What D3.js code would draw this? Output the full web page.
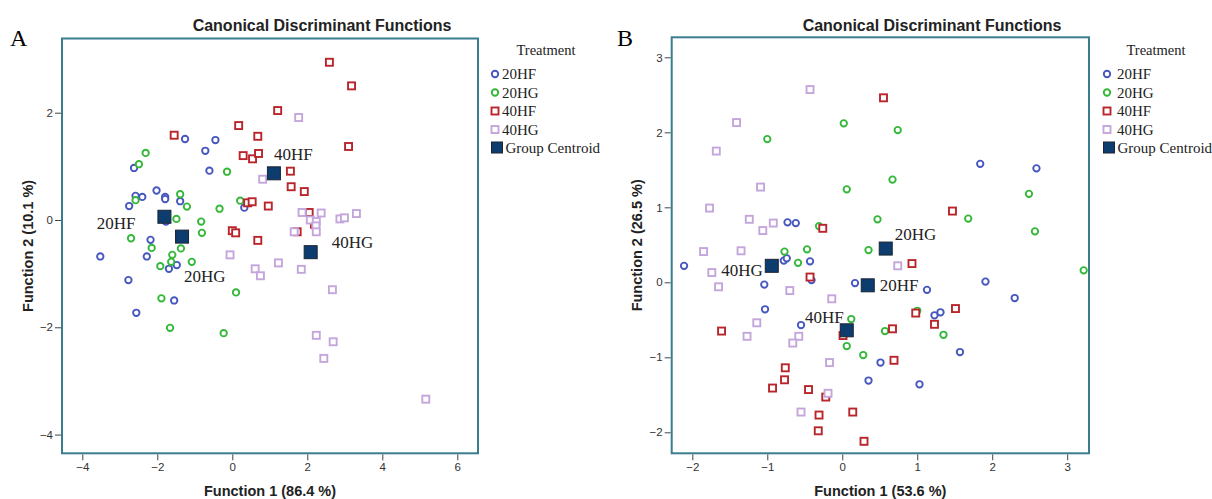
<!DOCTYPE html>
<html>
<head>
<meta charset="utf-8">
<script src="https://cdn.jsdelivr.net/npm/d3@7"></script>
<style>
  body { margin: 0; background: #fff; }
  svg { display: block; }
  .tick text { font-family: "Liberation Sans", Arial, sans-serif; font-size: 11.5px; fill: #333; }
  .tick line { stroke: #444; }
  .domain { display: none; }
</style>
</head>
<body>
<script>
// groups and colours
var groups = ['20HF', '20HG', '40HF', '40HG']
var colors = {'20HF': '#4657c0', '20HG': '#35b83a', '40HF': '#b8262c', '40HG': '#c4a6dc'}
var shapes = {'20HF': 'circle', '20HG': 'circle', '40HF': 'square', '40HG': 'square'}

// panel A scores [function1, function2]
var A_20HF = [[-1.26, 1.51], [-0.45, 1.49], [-0.72, 1.29], [-2.62, 0.97], [-0.61, 0.92], [-2.02, 0.55],
  [-2.58, 0.45], [-2.40, 0.43], [-1.79, 0.43], [-1.79, 0.39], [-1.39, 0.35], [-2.75, 0.26], [0.32, 0.23],
  [-1.77, -0.03], [-2.18, -0.37], [-3.52, -0.68], [-2.28, -0.68], [-1.48, -0.84], [-1.69, -0.91],
  [-2.77, -1.12], [-1.55, -1.50], [-2.56, -1.73]]
var A_20HG = [[-2.31, 1.25], [-2.49, 1.04], [-0.14, 0.90], [-1.39, 0.48], [-2.58, 0.37], [-1.21, 0.25],
  [-0.34, 0.21], [0.21, 0.36], [-1.49, 0.02], [-0.83, -0.03], [-0.81, -0.24], [-2.70, -0.34], [-2.15, -0.52],
  [-1.37, -0.53], [-1.60, -0.65], [-1.63, -0.78], [-1.92, -0.86], [-1.08, -0.78], [0.10, -1.35],
  [-1.89, -1.46], [-1.66, -2.01], [-0.23, -2.11]]
var A_40HF = [[2.59, 2.94], [3.18, 2.50], [1.21, 2.04], [0.17, 1.76], [-1.55, 1.58], [0.68, 1.56],
  [3.10, 1.37], [0.29, 1.20], [0.54, 1.14], [0.70, 1.24], [1.55, 0.91], [1.57, 0.62], [1.92, 0.53],
  [0.41, 0.32], [0.53, 0.34], [0.96, 0.26], [2.05, 0.14], [0.00, -0.20], [0.09, -0.24], [0.68, -0.38],
  [1.73, -0.22], [2.19, -0.08]]
var A_40HG = [[1.77, 1.91], [0.81, 0.76], [1.86, 0.14], [2.37, 0.13], [2.08, 0.00], [2.24, -0.03],
  [2.23, -0.11], [2.87, 0.02], [2.99, 0.04], [3.31, 0.12], [1.65, -0.22], [2.24, -0.22], [-0.06, -0.65],
  [0.61, -0.91], [0.75, -1.04], [1.23, -0.80], [1.84, -0.92], [2.67, -1.30], [2.24, -2.15], [2.69, -2.27],
  [2.44, -2.58], [5.16, -3.34]]
var A_centroids = [[-1.81, 0.06], [-1.34, -0.31], [1.11, 0.87], [2.09, -0.60]]

// panel B scores [function1, function2]
var B_20HF = [[1.84, 1.58], [2.59, 1.52], [-0.73, 0.80], [-0.62, 0.79], [-2.11, 0.22], [-0.78, 0.29],
  [-0.74, 0.32], [-0.43, 0.28], [-0.41, 0.03], [-1.04, -0.03], [0.17, -0.01], [1.13, -0.10], [1.91, 0.01],
  [2.30, -0.21], [-1.03, -0.36], [1.23, -0.44], [1.31, -0.40], [-0.55, -0.57], [1.57, -0.93], [0.51, -1.07],
  [0.35, -1.31], [1.03, -1.36]]
var B_20HG = [[0.02, 2.12], [0.74, 2.03], [-1.00, 1.91], [0.67, 1.37], [0.06, 1.24], [2.49, 1.18],
  [0.47, 0.84], [1.68, 0.85], [2.57, 0.68], [-0.31, 0.75], [-0.77, 0.41], [-0.47, 0.44], [0.35, 0.43],
  [-0.59, 0.26], [3.22, 0.16], [0.12, -0.49], [1.00, -0.38], [0.57, -0.65], [1.35, -0.70], [0.06, -0.85],
  [0.28, -0.97]]
var B_40HF = [[0.55, 2.46], [1.47, 0.95], [-0.26, 0.72], [0.93, 0.25], [-0.43, 0.07], [-1.61, -0.65],
  [0.01, -0.71], [0.67, -0.62], [0.98, -0.41], [1.23, -0.56], [1.51, -0.35], [0.69, -1.04], [-0.76, -1.14],
  [-0.77, -1.30], [-0.93, -1.41], [-0.45, -1.43], [-0.22, -1.53], [-0.31, -1.77], [0.14, -1.73],
  [-0.32, -1.98], [0.29, -2.12]]
var B_40HG = [[-0.43, 2.57], [-1.41, 2.13], [-1.68, 1.75], [-1.09, 1.27], [-1.77, 0.99], [-1.24, 0.84],
  [-0.92, 0.79], [-1.06, 0.69], [-1.85, 0.41], [-1.35, 0.42], [-1.74, 0.13], [-1.65, -0.06], [-0.70, -0.11],
  [-0.14, -0.22], [0.74, 0.22], [-1.14, -0.54], [-1.27, -0.72], [-0.58, -0.72], [-0.66, -0.81],
  [-0.17, -1.07], [-0.19, -1.48], [-0.55, -1.73]]
var B_centroids = [[0.34, -0.04], [0.58, 0.45], [0.06, -0.64], [-0.94, 0.22]]

var A_xTicks = [-4, -2, 0, 2, 4, 6]
var A_yTicks = [-4, -2, 0, 2]
var B_xTicks = [-2, -1, 0, 1, 2, 3]
var B_yTicks = [-2, -1, 0, 1, 2, 3]

var svg = d3.select('body').append('svg')
  .attr('width', 1212)
  .attr('height', 499)

var serif = '"Liberation Serif", "Times New Roman", serif'
var sans = '"Liberation Sans", Arial, sans-serif'
var R = 3.2 // circle radius
var S = 7 // open square side
var SW = 1.9 // marker stroke

function marker (sel, g, cx, cy) {
  if (shapes[g] === 'circle') {
    sel.append('circle').attr('cx', cx).attr('cy', cy).attr('r', R)
      .attr('fill', '#fff').attr('stroke', colors[g]).attr('stroke-width', SW)
  } else {
    sel.append('rect').attr('x', cx - S / 2).attr('y', cy - S / 2).attr('width', S).attr('height', S)
      .attr('fill', '#fff').attr('stroke', colors[g]).attr('stroke-width', SW)
  }
}

function drawPanel (p) {
  var x = d3.scaleLinear().domain(p.xDomain).range([p.left, p.right])
  var y = d3.scaleLinear().domain(p.yDomain).range([p.bottom, p.top])

  svg.append('text')
    .attr('x', p.letterX).attr('y', 46)
    .style('font-family', serif).style('font-size', '24px')
    .text(p.letter)

  svg.append('text')
    .attr('x', p.titleX).attr('y', 31)
    .attr('text-anchor', 'middle')
    .style('font-family', sans).style('font-size', '16px').style('font-weight', 'bold')
    .style('fill', '#222')
    .text('Canonical Discriminant Functions')

  svg.append('g')
    .attr('transform', 'translate(0,' + (p.bottom + 1) + ')')
    .call(d3.axisBottom(x).tickValues(p.xTicks).tickSize(6).tickPadding(3).tickFormat(d3.format('d')))

  svg.append('g')
    .attr('transform', 'translate(' + (p.left - 1) + ',0)')
    .call(d3.axisLeft(y).tickValues(p.yTicks).tickSize(6).tickPadding(2).tickFormat(d3.format('d')))

  svg.append('rect')
    .attr('x', p.left).attr('y', p.top)
    .attr('width', p.right - p.left).attr('height', p.bottom - p.top)
    .attr('fill', 'none')
    .attr('stroke', '#3a7d8f')
    .attr('stroke-width', 2)

  svg.append('text')
    .attr('x', (p.left + p.right) / 2).attr('y', 496)
    .attr('text-anchor', 'middle')
    .style('font-family', sans).style('font-size', '14.5px').style('font-weight', 'bold')
    .style('fill', '#222')
    .text(p.xLabel)

  svg.append('text')
    .attr('transform', 'translate(' + p.yLabelX + ',' + ((p.top + p.bottom) / 2) + ') rotate(-90)')
    .attr('text-anchor', 'middle')
    .style('font-family', sans).style('font-size', '14.5px').style('font-weight', 'bold')
    .style('fill', '#222')
    .text(p.yLabel)

  var pts = svg.append('g')
  groups.forEach(function (g, i) {
    p.series[i].forEach(function (d) { marker(pts, g, x(d[0]), y(d[1])) })
  })

  pts.selectAll('.centroid').data(p.centroids).enter().append('rect')
    .attr('x', function (d) { return x(d[0]) - 6.5 })
    .attr('y', function (d) { return y(d[1]) - 6.5 })
    .attr('width', 13).attr('height', 13)
    .attr('fill', '#0d3c6e')
    .attr('stroke', '#1b2433')
    .attr('stroke-width', 1)

  pts.selectAll('.clabel').data(p.centroids).enter().append('text')
    .attr('x', function (d, i) { return x(d[0]) + p.labelOffsets[i][0] })
    .attr('y', function (d, i) { return y(d[1]) + p.labelOffsets[i][1] })
    .attr('text-anchor', function (d, i) { return p.labelOffsets[i][0] < 0 ? 'end' : 'start' })
    .style('font-family', serif).style('font-size', '17px')
    .style('fill', '#222')
    .text(function (d, i) { return groups[i] })

  // legend
  var lg = svg.append('g')
  lg.append('text')
    .attr('x', p.legendX + p.legendTitleDx).attr('y', 55)
    .attr('text-anchor', 'middle')
    .style('font-family', serif).style('font-size', '14.5px')
    .style('fill', '#222')
    .text('Treatment')
  groups.forEach(function (g, i) {
    var cy = 74 + i * 18.5
    marker(lg, g, p.legendX, cy)
    lg.append('text')
      .attr('x', p.legendX + p.legendTextDx).attr('y', cy + 5)
      .style('font-family', serif).style('font-size', '15px')
      .style('fill', '#222')
      .text(g)
  })
  var cy = 74 + 4 * 18.5
  lg.append('rect').attr('x', p.legendX - 3.5).attr('y', cy - 6).attr('width', 11).attr('height', 11)
    .attr('fill', '#0d3c6e').attr('stroke', '#1b2433').attr('stroke-width', 1)
  lg.append('text')
    .attr('x', p.legendX + 10.5).attr('y', cy + 5)
    .style('font-family', serif).style('font-size', '15px')
    .style('fill', '#222')
    .text('Group Centroid')
}

drawPanel({
  letter: 'A', letterX: 10, titleX: 322,
  left: 62, right: 478, top: 38.5, bottom: 453.3,
  xDomain: [-4.541, 6.552], yDomain: [-4.349, 3.383],
  xTicks: A_xTicks, yTicks: A_yTicks,
  xLabel: 'Function 1 (86.4 %)', yLabel: 'Function 2 (10.1 %)', yLabelX: 33,
  series: [A_20HF, A_20HG, A_40HF, A_40HG], centroids: A_centroids,
  labelOffsets: [[-29, 12], [2, 45], [0, -13], [21, -4]],
  legendX: 495, legendTextDx: 7, legendTitleDx: 51
})

drawPanel({
  letter: 'B', letterX: 617, titleX: 932,
  left: 671.7, right: 1089, top: 37.3, bottom: 453.3,
  xDomain: [-2.275, 3.291], yDomain: [-2.28, 3.267],
  xTicks: B_xTicks, yTicks: B_yTicks,
  xLabel: 'Function 1 (53.6 %)', yLabel: 'Function 2 (26.5 %)', yLabelX: 642,
  series: [B_20HF, B_20HG, B_40HF, B_40HG], centroids: B_centroids,
  labelOffsets: [[12, 6], [9, -9], [-3, -7], [-9, 10]],
  legendX: 1107, legendTextDx: 10, legendTitleDx: 49
})
</script>
</body>
</html>
